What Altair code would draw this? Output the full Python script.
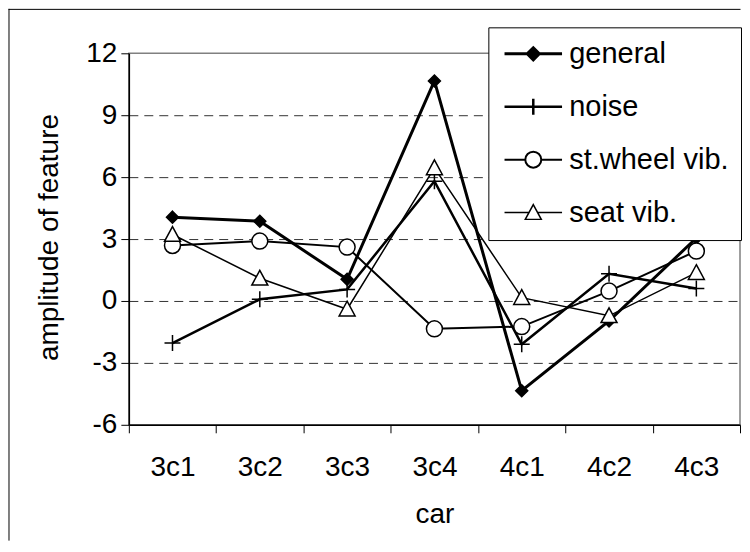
import altair as alt
import pandas as pd

cars = ["3c1", "3c2", "3c3", "3c4", "4c1", "4c2", "4c3"]
series = ["general", "noise", "st.wheel vib.", "seat vib."]
general = [4.06, 3.86, 1.05, 10.66, -4.35, -0.97, 3.05]
noise = [-2.04, 0.08, 0.56, 5.8, -2.1, 1.32, 0.6]
wheel = [2.69, 2.9, 2.61, -1.35, -1.24, 0.48, 2.42]
seat = [3.22, 1.1, -0.4, 6.45, 0.16, -0.72, 1.37]
y_ticks = [-6, -3, 0, 3, 6, 9, 12]

rows = []
for s, vals in zip(series, [general, noise, wheel, seat]):
    for c, v in zip(cars, vals):
        rows.append({"car": c, "series": s, "value": v})
df = pd.DataFrame(rows)

FONT = "Liberation Sans"
FS = 28

plot_shapes = [
    "M0,-0.75L0.75,0L0,0.75L-0.75,0Z",
    "M-1,0L1,0M0,-1L0,1",
    "circle",
    "M0,-1L1,0.85L-1,0.85Z",
]
legend_shapes = [
    "M-3.6,0L3.6,0M0,-0.75L0.75,0L0,0.75L-0.75,0Z",
    "M-3.6,0L3.6,0M0,-1L0,1",
    "M-3.6,0L-1,0M1,0L3.6,0M-1,0A1,1,0,1,0,1,0A1,1,0,1,0,-1,0Z",
    "M-3.6,0L-0.55,0M0.55,0L3.6,0M0,-1L1,0.85L-1,0.85Z",
]
fills = ["black", "white", "white", "white"]
strokes = ["black", "black", "black", "black"]
widths = [3, 1.5, 1.5, 1.5]

W, H = 612, 372

X = alt.X(
    "car:N",
    sort=cars,
    scale=alt.Scale(type="band", domain=cars, paddingInner=0, paddingOuter=0),
    axis=alt.Axis(
        title="car", tickBand="extent", labelAngle=0, grid=False,
        domainColor="black", domainWidth=1.5, tickColor="black", tickSize=8, tickWidth=1,
        labelFont=FONT, labelFontSize=FS, labelColor="black", labelPadding=21,
        titleFont=FONT, titleFontSize=FS, titleFontWeight="normal", titleColor="black",
        titleX=W / 2, titleY=98, titleAlign="center", titleBaseline="alphabetic",
    ),
)
Y = alt.Y(
    "value:Q",
    scale=alt.Scale(domain=[-6, 12], nice=False, zero=False),
    axis=alt.Axis(
        values=y_ticks, labelExpr="'' + datum.value",
        grid=True, gridDash=[9, 6], gridColor="#333333", gridWidth=1,
        gridOpacity={"condition": {"test": "datum.value >= 12 || datum.value <= -6", "value": 0}, "value": 1},
        domainColor="black", domainWidth=1.5, tickColor="black", tickSize=8, tickWidth=1,
        labelFont=FONT, labelFontSize=FS, labelColor="black", labelPadding=4,
        title="amplitude of feature", titleFont=FONT, titleFontSize=FS, titleFontWeight="normal",
        titleColor="black", titleX=-79, titleY=184, titleAngle=270, titleAlign="center",
        titleBaseline="middle",
    ),
)

leg = alt.Legend(
    title=None, orient="none", legendX=360, legendY=-26, fillColor="white", strokeColor="black",
    padding=12, rowPadding=23, symbolSize=256, symbolStrokeColor="black", symbolOpacity=1,
    symbolOffset=18.5, labelOffset=21.5, labelFont=FONT, labelFontSize=29, labelColor="black",
    labelLimit=400, zindex=1,
)

one = alt.Data(values=[{"a": 1}])
top_rule = alt.Chart(one).mark_rule(color="black", strokeWidth=1).encode(
    x=alt.value(-120.5), x2=alt.value(612.5), y=alt.value(-44)
)
left_rule = alt.Chart(one).mark_rule(color="black", strokeWidth=1).encode(
    x=alt.value(-120), y=alt.value(-44.5), y2=alt.value(488)
)

lines = alt.Chart(df).mark_line(color="black").encode(
    x=X, y=Y,
    strokeWidth=alt.StrokeWidth("series:N", scale=alt.Scale(domain=series, range=widths), legend=None),
)
points = alt.Chart(df).mark_point(color="black", size=256, strokeWidth=1.5, opacity=1, fillOpacity=1).encode(
    x=X, y=Y,
    shape=alt.Shape("series:N", scale=alt.Scale(domain=series, range=plot_shapes), legend=None),
    fill=alt.Fill("series:N", scale=alt.Scale(domain=series, range=fills), legend=None),
)
legend_layer = alt.Chart(df).mark_point(color="black", size=256, opacity=0).encode(
    x=X, y=Y,
    shape=alt.Shape("series:N", scale=alt.Scale(domain=series, range=legend_shapes), legend=leg),
    fill=alt.Fill("series:N", scale=alt.Scale(domain=series, range=fills), legend=leg),
    stroke=alt.Stroke("series:N", scale=alt.Scale(domain=series, range=strokes), legend=leg),
    strokeWidth=alt.StrokeWidth("series:N", scale=alt.Scale(domain=series, range=widths), legend=leg),
)

chart = (
    alt.layer(top_rule, left_rule, lines, points, legend_layer)
    .resolve_scale(shape="independent", fill="independent", stroke="independent",
                   strokeWidth="independent")
    .properties(width=W, height=H, padding=0, background="white")
    .configure_view(stroke="#808080", strokeWidth=1.5)
)

chart.save("out.html", embed_options={"renderer": "svg", "actions": False})
